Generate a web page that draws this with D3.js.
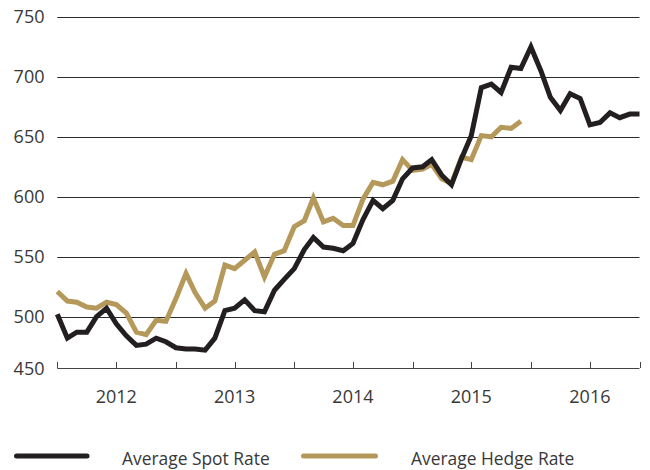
<!DOCTYPE html>
<html>
<head>
  <meta charset="utf-8">
  <script src="https://d3js.org/d3.v7.min.js"></script>
  <style>
    body { margin: 0; background: #fff; }
    text { font-family: "Open Sans", sans-serif; fill: #383838; }
  </style>
</head>
<body>
<script>
  // monthly values, Jan 2012 onwards
  var startMonth = "2012-01";
  var endMonth = "2016-12";
  var spotRate = [502, 482, 487, 487, 500, 507, 494, 484, 476, 477, 482, 479,
                  474, 473, 473, 472, 482, 505, 507, 514, 505, 504, 522, 531,
                  540, 556, 566, 558, 557, 555, 561, 581, 597, 590, 597, 615,
                  624, 625, 631, 618, 610, 632, 651, 691, 694, 687, 708, 707,
                  725, 705, 683, 672, 686, 682, 660, 662, 670, 666, 669, 669];
  var hedgeRate = [521, 513, 512, 508, 507, 512, 510, 503, 487, 485, 497, 496,
                   515, 536, 520, 507, 513, 543, 540, 547, 554, 533, 552, 555,
                   575, 580, 599, 579, 582, 576, 576, 598, 612, 610, 613, 631,
                   622, 623, 627, 615, 611, 633, 631, 651, 650, 658, 657, 663];
  var yTicks = [500, 550, 600, 650, 700, 750];
  var yBottomLabel = "450";
  var yearLabels = ["2012", "2013", "2014", "2015", "2016"];
  var seriesNames = ["Average Spot Rate", "Average Hedge Rate"];
  var colors = ["#231f20", "#b5995b"];

  var width = 650, height = 470;
  var plotLeft = 57.3, plotRight = 639.5, plotTop = 17, plotBottom = 368;

  var parse = d3.timeParse("%Y-%m");
  var t0 = parse(startMonth), t1 = parse(endMonth);
  var months = d3.timeMonth.range(t0, d3.timeMonth.offset(t1, 1));

  var x = d3.scaleTime().domain([t0, t1]).range([plotLeft, plotRight]);
  var y = d3.scaleLinear().domain([500, 750]).range([316.6, plotTop]);

  var svg = d3.select("body").append("svg")
      .attr("width", width)
      .attr("height", height);

  // gridlines
  svg.append("g").selectAll("line")
    .data(yTicks)
    .enter().append("line")
      .attr("x1", plotLeft).attr("x2", plotRight)
      .attr("y1", function (d) { return Math.round(y(d)) + 0.5; })
      .attr("y2", function (d) { return Math.round(y(d)) + 0.5; })
      .attr("stroke", "#2b2b2b")
      .attr("stroke-width", 1);

  // y labels
  svg.append("g").selectAll("text")
    .data(yTicks)
    .enter().append("text")
      .attr("x", 44.5)
      .attr("y", function (d) { return y(d); })
      .attr("dy", "0.36em")
      .attr("text-anchor", "end")
      .style("font-size", "18px")
      .text(function (d) { return d; });

  svg.append("text")
    .attr("x", 44.5)
    .attr("y", plotBottom + 1)
    .attr("dy", "0.36em")
    .attr("text-anchor", "end")
    .style("font-size", "18px")
    .text(yBottomLabel);

  // x axis
  svg.append("line")
    .attr("x1", plotLeft).attr("x2", plotRight)
    .attr("y1", plotBottom + 0.5).attr("y2", plotBottom + 0.5)
    .attr("stroke", "#444").attr("stroke-width", 1);

  var tickDates = d3.timeMonth.every(6).range(t0, d3.timeMonth.offset(t1, 1));
  tickDates.push(t1);
  svg.append("g").selectAll("line")
    .data(tickDates)
    .enter().append("line")
      .attr("x1", function (d) { return Math.round(x(d)) + 0.5; })
      .attr("x2", function (d) { return Math.round(x(d)) + 0.5; })
      .attr("y1", plotBottom - 6).attr("y2", plotBottom)
      .attr("stroke", "#444").attr("stroke-width", 1);

  svg.append("g").selectAll("text")
    .data(yearLabels)
    .enter().append("text")
      .attr("x", function (d) { return x(parse(d + "-07")); })
      .attr("y", 397)
      .attr("dy", "0.36em")
      .attr("text-anchor", "middle")
      .style("font-size", "18px")
      .text(function (d) { return d; });

  // lines
  var line = d3.line()
    .x(function (d, i) { return x(months[i]); })
    .y(function (d) { return y(d); });

  svg.append("path")
    .datum(hedgeRate)
    .attr("d", line)
    .attr("fill", "none")
    .attr("stroke", colors[1])
    .attr("stroke-width", 5);

  svg.append("path")
    .datum(spotRate)
    .attr("d", line)
    .attr("fill", "none")
    .attr("stroke", colors[0])
    .attr("stroke-width", 5);

  // legend
  var legendX = [[14, 89.5, 122], [301, 378, 411]];
  var legend = svg.append("g").selectAll("g")
    .data(seriesNames)
    .enter().append("g");
  legend.append("line")
    .attr("x1", function (d, i) { return legendX[i][0] + 2.5; })
    .attr("x2", function (d, i) { return legendX[i][1] - 2.5; })
    .attr("y1", 456).attr("y2", 456)
    .attr("stroke", function (d, i) { return colors[i]; })
    .attr("stroke-width", 5)
    .attr("stroke-linecap", "round");
  legend.append("text")
    .attr("x", function (d, i) { return legendX[i][2]; })
    .attr("y", 459)
    .attr("dy", "0.36em")
    .style("font-size", "17.4px")
    .text(function (d) { return d; });
</script>
</body>
</html>
